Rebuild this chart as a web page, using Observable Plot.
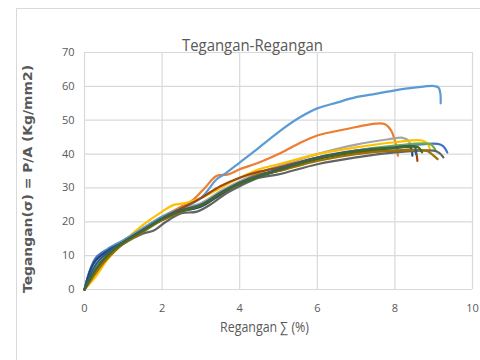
<!DOCTYPE html>
<html><head><meta charset="utf-8">
<script src="https://cdn.jsdelivr.net/npm/d3@7"></script>
<script src="https://cdn.jsdelivr.net/npm/@observablehq/plot@0.6"></script>
<style>
body{margin:0;background:#fff;}
#wrap{position:relative;width:480px;height:360px;overflow:hidden;background:#fff;}
#border{position:absolute;left:16px;top:8px;width:480px;height:400px;border:1px solid #d9d9d9;}
#chart{position:absolute;left:0;top:0;}
</style></head><body>
<div id="wrap"><div id="border"></div><div id="chart"></div></div>
<script>
const title = "Tegangan-Regangan";
const xLabel = "Regangan ∑ (%)";
const yLabel = "Tegangan(σ) = P/A (Kg/mm2)";
const xTicks = [0, 2, 4, 6, 8, 10];
const yTicks = [0, 10, 20, 30, 40, 50, 60, 70];
const seriesNames = ["S1","S2","S3","S4","S5","S6","S7","S8","S9","S10","S11","S12"];
const seriesColors = ["#4472C4","#ED7D31","#A5A5A5","#FFC000","#5B9BD5","#70AD47","#264478","#9E480E","#636363","#997300","#255E91","#43682B"];

const s1 = [[0,0],[0.15,6],[0.3,9.5],[0.6,12],[1,14.5],[1.5,17.8],[2,21],[2.5,23.5],[3,25],[3.5,28.5],[4,31.5],[4.5,33.5],[5,35.5],[6,38.8],[7,41],[8,42.3],[8.6,42.8],[9.1,43],[9.25,42.3],[9.35,40.5]];
const s2 = [[0,0],[0.3,6],[0.6,10.5],[1,14],[1.5,18],[2,21.5],[2.5,24.5],[2.8,26.5],[3.1,30],[3.4,33.5],[3.7,34],[4,35.5],[4.5,37.5],[5,40],[5.5,43],[6,45.5],[6.5,46.8],[7,48],[7.5,49],[7.75,48.8],[7.9,47],[8.0,44],[8.08,39.5]];
const s3 = [[0,0],[0.3,6.5],[0.6,11],[1,14.5],[1.5,18],[2,21.5],[2.5,24],[3,25.5],[3.5,29],[4,32],[4.5,34.5],[5,36.5],[6,40],[7,42.8],[7.8,44.3],[8.2,44.8],[8.35,44],[8.4,42]];
const s4 = [[0,0],[0.3,4],[0.6,9],[1,14],[1.5,19],[2,23],[2.3,25],[2.6,25.5],[3,27],[3.5,30],[4,33],[4.5,35.5],[5,37],[6,40],[7,42],[8,43.5],[8.7,44],[8.85,43],[8.9,41.5]];
const s5 = [[0,0],[0.2,7],[0.5,11],[1,14.5],[1.5,18],[2,21.5],[2.5,24],[3,27],[3.4,32.5],[3.6,34],[4,37.5],[4.4,41],[5,46.5],[5.5,50.5],[6,53.5],[6.5,55.2],[7,56.8],[7.5,57.8],[8,58.8],[8.5,59.6],[9,60.1],[9.12,59.7],[9.17,58],[9.18,55]];
const s6 = [[0,0],[0.4,7],[0.7,11],[1,13.5],[1.5,17],[2,20.5],[2.5,23],[3,24.5],[3.5,28],[4,31],[4.5,33.5],[5,35.2],[6,38.5],[7,41],[8,42.5],[8.9,43],[9.0,42],[9.05,41]];
const s7 = [[0,0],[0.25,8],[0.6,11.5],[1,14],[1.5,17.5],[2,20.5],[2.5,23],[3,24.5],[3.5,28],[4,31.5],[4.5,33.5],[5,35],[6,38.5],[7,40.5],[8,41.8],[8.4,42],[8.45,39.5]];
const s8 = [[0,0],[0.4,7.5],[0.7,11.5],[1,14],[1.5,17.5],[2,21],[2.5,24],[3,27],[3.5,30.5],[4,33],[4.5,34.8],[5,36],[6,39],[7,40.5],[8,41],[8.5,41],[8.58,38]];
const s9 = [[0,0],[0.4,7],[0.7,11],[1,13.5],[1.5,16.5],[1.8,17.5],[2.1,20],[2.5,22.5],[2.9,23],[3.3,25.5],[3.6,28],[4,30.5],[4.5,33],[5,34],[6,37],[7,39],[8,40.5],[9,41],[9.15,40.3],[9.25,39]];
const s10 = [[0,0],[0.5,8],[0.8,11.5],[1,13.5],[1.5,17],[2,20.5],[2.5,23],[3,25],[3.5,28.5],[4,31.5],[4.5,34],[5,35],[6,38],[7,40],[8,41],[8.8,41],[8.95,40],[9.1,38.5]];
const s11 = [[0,0],[0.3,7.5],[0.6,11],[1,14],[1.5,17.5],[2,21],[2.5,23.5],[3,25],[3.5,28.5],[4,31.5],[5,35.5],[6,39],[7,41],[8,42],[8.5,42.2],[8.55,40]];
const s12 = [[0,0],[0.35,7],[0.7,11.2],[1,13.8],[1.5,17.3],[2,20.8],[2.5,23.2],[3,24.8],[3.5,28.2],[4,31.2],[5,35.2],[6,38.7],[7,40.8],[8,41.8],[8.6,42],[8.7,40.5]];

const allSeries = [s1,s2,s3,s4,s5,s6,s7,s8,s9,s10,s11,s12];
const data = allSeries.flatMap((pts, i) => pts.map(([x, y]) => ({s: seriesNames[i], x, y})));

const chart = Plot.plot({
  width: 480, height: 360,
  marginLeft: 84, marginRight: 8, marginTop: 52, marginBottom: 71,
  style: {fontFamily: "'Open Sans', sans-serif", fontSize: "11px", color: "#595959", background: "transparent"},
  x: {domain: [0, 10], label: null},
  y: {domain: [0, 70], label: null},
  color: {domain: seriesNames, range: seriesColors},
  marks: [
    Plot.gridX(xTicks, {stroke: "#d9d9d9", strokeOpacity: 1, strokeWidth: 1.2}),
    Plot.gridY(yTicks, {stroke: "#d9d9d9", strokeOpacity: 1, strokeWidth: 1.2}),
    Plot.axisX(xTicks, {tickSize: 0, tickPadding: 15, fill: "#595959", fontSize: 11}),
    Plot.axisY(yTicks, {tickSize: 0, tickPadding: 10, fill: "#595959", fontSize: 11}),
    Plot.line(data, {x: "x", y: "y", z: "s", stroke: "s", strokeWidth: 2.2, curve: "catmull-rom"}),
    Plot.text([title], {text: d => d, frameAnchor: "top", dx: -26, dy: -14, fontSize: 17, fill: "#595959"}),
    Plot.text([xLabel], {text: d => d, frameAnchor: "bottom", dx: -14, dy: 42, fontSize: 14, fill: "#595959"}),
    Plot.text([yLabel], {text: d => d, frameAnchor: "left", textAnchor: "middle", dx: -56, dy: 8, rotate: -90, fontSize: 12, fontWeight: "bold", fill: "#595959", fontFamily: "DejaVu Sans"})
  ]
});
const fit = {[title]: 141, [xLabel]: 89, [yLabel]: 228};
d3.select(chart).selectAll("text").each(function() {
  const t = this.textContent;
  if (fit[t]) d3.select(this).attr("textLength", fit[t]).attr("lengthAdjust", "spacingAndGlyphs");
});
document.getElementById("chart").appendChild(chart);
</script>
</body></html>
